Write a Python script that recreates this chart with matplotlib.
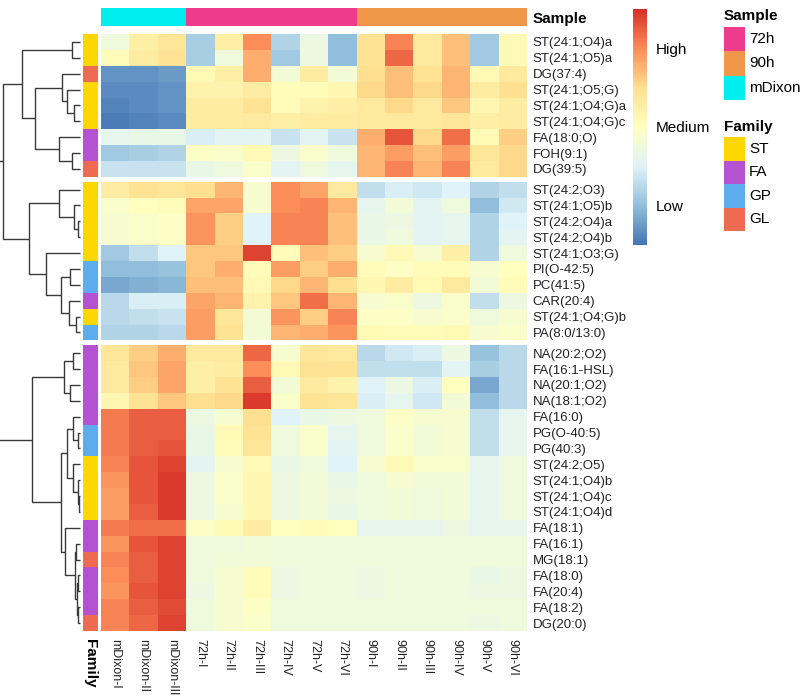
import numpy as np
import matplotlib
matplotlib.use("Agg")
import matplotlib.pyplot as plt
from matplotlib.colors import LinearSegmentedColormap, Normalize, ListedColormap
from matplotlib.cm import ScalarMappable
from matplotlib.patches import Rectangle

plt.rcParams['font.family'] = ['Liberation Sans', 'DejaVu Sans']

# ---------------- data ----------------
samples = ['mDixon-I', 'mDixon-II', 'mDixon-III',
           '72h-I', '72h-II', '72h-III', '72h-IV', '72h-V', '72h-VI',
           '90h-I', '90h-II', '90h-III', '90h-IV', '90h-V', '90h-VI']
sample_group = ['mDixon'] * 3 + ['72h'] * 6 + ['90h'] * 6

lipids = ['ST(24:1;O4)a', 'ST(24:1;O5)a', 'DG(37:4)', 'ST(24:1;O5;G)', 'ST(24:1;O4;G)a',
          'ST(24:1;O4;G)c', 'FA(18:0;O)', 'FOH(9:1)', 'DG(39:5)',
          'ST(24:2;O3)', 'ST(24:1;O5)b', 'ST(24:2;O4)a', 'ST(24:2;O4)b', 'ST(24:1;O3;G)',
          'PI(O-42:5)', 'PC(41:5)', 'CAR(20:4)', 'ST(24:1;O4;G)b', 'PA(8:0/13:0)',
          'NA(20:2;O2)', 'FA(16:1-HSL)', 'NA(20:1;O2)', 'NA(18:1;O2)', 'FA(16:0)',
          'PG(O-40:5)', 'PG(40:3)', 'ST(24:2;O5)', 'ST(24:1;O4)b', 'ST(24:1;O4)c',
          'ST(24:1;O4)d', 'FA(18:1)', 'FA(16:1)', 'MG(18:1)', 'FA(18:0)', 'FA(20:4)',
          'FA(18:2)', 'DG(20:0)']
families = ['ST', 'ST', 'GL', 'ST', 'ST', 'ST', 'FA', 'FA', 'GL',
            'ST', 'ST', 'ST', 'ST', 'ST', 'GP', 'GP', 'FA', 'ST', 'GP',
            'FA', 'FA', 'FA', 'FA', 'FA', 'GP', 'GP', 'ST', 'ST', 'ST',
            'ST', 'FA', 'FA', 'GL', 'FA', 'FA', 'FA', 'GL']
cluster_sizes = [9, 10, 18]

# row-scaled abundance (z-score)
values = np.array([
    [-0.5, 0.5, 0.8, -1.7, 0.5, 2.0, -1.6, -0.6, -2.0, 0.9, 2.1, 0.7, 1.4, -1.8, 0.2],
    [0.1, 0.6, 0.9, -1.7, -0.5, 1.6, -1.8, -0.6, -2.0, 0.9, 2.4, 0.7, 1.4, -1.8, 0.2],
    [-2.6, -2.6, -2.5, 0.2, 0.5, 1.6, -0.4, 0.6, -0.4, 1.0, 1.4, 0.9, 1.5, 0.2, 0.7],
    [-2.7, -2.7, -2.6, 0.4, 0.4, 0.6, 0.1, 0.1, 0.3, 1.1, 1.4, 1.1, 1.5, 0.6, 1.0],
    [-2.8, -2.7, -2.6, 0.6, 0.6, 0.9, 0.1, 0.4, 0.5, 0.7, 1.1, 0.7, 1.3, 0.3, 0.6],
    [-2.9, -2.8, -2.7, 0.6, 0.6, 0.7, 0.5, 0.6, 0.6, 0.7, 0.7, 0.7, 0.8, 0.5, 0.6],
    [-0.8, -0.7, -0.7, -1.1, -0.9, -0.9, -1.3, -0.9, -1.3, 1.6, 2.6, 1.1, 2.3, 0.2, 1.2],
    [-1.8, -1.7, -1.6, -0.1, -0.2, 0.2, -0.6, -0.2, -0.5, 1.5, 1.8, 1.4, 1.8, 0.8, 1.1],
    [-1.3, -1.3, -1.3, -0.7, -0.5, -0.2, -0.9, -0.5, -0.8, 1.5, 2.1, 1.5, 2.1, 0.7, 1.1],
    [0.6, 0.9, 0.8, 1.0, 1.5, -0.3, 2.0, 1.7, 0.7, -1.4, -1.1, -1.2, -1.0, -1.6, -1.4],
    [-0.2, 0.0, 0.1, 1.7, 1.7, -0.3, 2.0, 2.1, 1.5, -0.8, -0.4, -0.9, -0.5, -2.0, -1.2],
    [-0.3, -0.2, -0.1, 1.9, 1.2, -1.0, 2.1, 2.1, 1.4, -0.7, -0.6, -0.9, -0.8, -1.6, -1.0],
    [-0.3, -0.2, -0.1, 1.9, 1.2, -1.0, 2.1, 2.1, 1.4, -0.7, -0.5, -0.9, -0.8, -1.6, -0.9],
    [-1.8, -1.4, -1.0, 1.3, 1.3, 2.8, 0.1, 1.4, 1.2, -0.3, 0.2, -0.3, 0.5, -1.6, -0.5],
    [-2.0, -2.0, -1.9, 1.3, 1.6, 0.1, 1.8, 1.2, 1.6, 0.1, -0.1, 0.1, 0.1, -0.3, 0.0],
    [-2.3, -2.2, -2.1, 1.4, 1.4, 0.2, 1.1, 1.5, 1.0, 0.3, 0.6, 0.2, 0.7, -0.4, 0.1],
    [-1.5, -1.1, -1.1, 1.7, 1.5, 0.4, 1.3, 2.3, 1.5, -0.3, -0.2, -0.6, -0.2, -1.4, -0.6],
    [-1.5, -1.4, -1.3, 1.8, 0.8, -0.4, 1.9, 1.2, 2.1, -0.1, -0.1, -0.3, -0.2, -0.5, -0.3],
    [-1.6, -1.6, -1.5, 1.8, 0.9, -0.4, 1.5, 1.6, 1.9, 0.2, 0.1, 0.1, 0.2, -0.3, -0.2],
    [0.8, 1.2, 1.6, 0.7, 0.7, 2.4, -0.3, 0.8, 0.7, -1.5, -1.2, -1.1, -0.6, -1.9, -1.5],
    [0.7, 1.3, 1.7, 0.5, 0.6, 2.0, 0.2, 0.9, 0.9, -1.4, -1.4, -1.4, -0.9, -1.7, -1.5],
    [0.7, 1.2, 1.7, 0.5, 0.9, 2.5, -0.4, 0.7, 0.4, -1.0, -0.6, -1.1, 0.0, -2.3, -1.5],
    [0.3, 0.9, 1.3, 1.0, 1.1, 2.9, -0.2, 0.9, 0.8, -1.1, -0.8, -1.2, -0.4, -2.0, -1.5],
    [2.2, 2.5, 2.5, -0.6, -0.3, 1.0, -1.0, -0.7, -0.6, -0.5, -0.1, -0.3, -0.3, -1.4, -0.8],
    [2.2, 2.5, 2.5, -0.7, 0.2, 0.9, -0.5, -0.2, -0.8, -0.5, -0.2, -0.4, -0.3, -1.4, -0.8],
    [2.2, 2.5, 2.6, -0.7, 0.1, 0.8, -0.5, -0.2, -0.9, -0.5, -0.2, -0.4, -0.3, -1.4, -0.8],
    [2.1, 2.6, 2.8, -0.9, -0.3, 0.2, -0.7, -0.5, -1.0, -0.3, 0.2, -0.2, -0.2, -0.8, -0.5],
    [1.9, 2.6, 2.9, -0.6, -0.2, 0.3, -0.6, -0.4, -0.7, -0.5, -0.3, -0.4, -0.4, -0.8, -0.5],
    [1.8, 2.6, 2.9, -0.6, -0.2, 0.3, -0.6, -0.4, -0.6, -0.5, -0.4, -0.5, -0.4, -0.8, -0.5],
    [1.8, 2.5, 2.9, -0.6, -0.3, 0.3, -0.6, -0.4, -0.7, -0.5, -0.4, -0.5, -0.4, -0.8, -0.5],
    [2.2, 2.3, 2.3, -0.1, 0.2, 0.6, 0.0, 0.1, 0.0, -0.8, -0.8, -0.8, -0.6, -0.8, -0.8],
    [1.9, 2.6, 2.8, -0.5, -0.5, -0.4, -0.5, -0.5, -0.5, -0.5, -0.5, -0.5, -0.5, -0.5, -0.5],
    [2.1, 2.5, 2.8, -0.5, -0.4, -0.4, -0.5, -0.5, -0.5, -0.5, -0.5, -0.5, -0.5, -0.5, -0.5],
    [2.0, 2.5, 2.8, -0.5, -0.3, 0.1, -0.6, -0.5, -0.5, -0.6, -0.5, -0.5, -0.5, -0.7, -0.6],
    [1.9, 2.6, 2.8, -0.6, -0.3, 0.1, -0.6, -0.5, -0.5, -0.6, -0.5, -0.5, -0.5, -0.6, -0.6],
    [2.1, 2.5, 2.7, -0.5, -0.3, -0.1, -0.5, -0.5, -0.5, -0.5, -0.5, -0.5, -0.5, -0.5, -0.5],
    [2.1, 2.4, 2.8, -0.5, -0.3, -0.2, -0.5, -0.5, -0.5, -0.5, -0.5, -0.5, -0.5, -0.6, -0.5],
])

# row dendrogram: (merge height, left, right); leaves are row indices
dendrogram_tree = (
    86,
    (77,
     (58, (8, 0, 1),
      (45, (18, 2, (13, 3, (6, 4, 5))), (21, 6, (8, 7, 8)))),
     (51, (21, 9, (6, 10, (2, 11, 12))),
      (34, 13, (19, (10, 14, 15), (11, 16, (4, 17, 18)))))),
    (48,
     (16, (7, 19, 20), (10, 21, 22)),
     (19,
      (13, (7, 23, (2, 24, 25)), (7, 26, (2, 27, (1, 28, 29)))),
      (15, 30, (5, (4, 31, 32), (3, (2, 33, 34), (2, 35, 36)))))),
)

sample_levels = ['72h', '90h', 'mDixon']
sample_colors = ['#EF3B8C', '#EF9649', '#00EEEE']
family_levels = ['ST', 'FA', 'GP', 'GL']
family_colors = ['#FFD700', '#B452D2', '#5CACEE', '#EE6A50']
scale_ticks = [2, 0, -2]
scale_labels = ['High', 'Medium', 'Low']

# ---------------- figure ----------------
W, H = 800, 699
fig = plt.figure(figsize=(W / 100, H / 100), dpi=100)


def px_axes(x0, y0, x1, y1):
    return fig.add_axes([x0 / W, 1 - y1 / H, (x1 - x0) / W, (y1 - y0) / H])


cmap = LinearSegmentedColormap.from_list(
    'rdylbu7', ['#4575B4', '#91BFDB', '#E0F3F8', '#FFFFBF', '#FEE090', '#FC8D59', '#D73027'], N=256)
norm = Normalize(-3, 3)

gap = 0.3
nrow, ncol = values.shape
total = nrow + gap * (len(cluster_sizes) - 1)
starts = np.cumsum([0] + cluster_sizes[:-1])
row_pos = np.zeros(nrow)
for c, (s, n) in enumerate(zip(starts, cluster_sizes)):
    row_pos[s:s + n] = np.arange(s, s + n) + c * gap + 0.5

# heatmap
hx0, hx1, hy0, hy1 = 101, 527, 34, 631
ax = px_axes(hx0, hy0, hx1, hy1)
for c, (s, n) in enumerate(zip(starts, cluster_sizes)):
    ye = np.arange(s, s + n + 1) + c * gap
    ax.pcolormesh(np.arange(ncol + 1), ye, values[s:s + n], cmap=cmap, norm=norm,
                  edgecolors='none', antialiased=False)
ax.set_xlim(0, ncol)
ax.set_ylim(total, 0)
for sp in ax.spines.values():
    sp.set_visible(False)
ax.set_xticks(np.arange(ncol) + 0.5)
ax.set_xticklabels(samples, rotation=270, fontsize=9, va='top', ha='center', color='#222222')
ax.yaxis.tick_right()
ax.set_yticks(row_pos)
ax.set_yticklabels(lipids, fontsize=9.5, color='#222222')
ax.tick_params(length=0, pad=4)
ax.tick_params(axis='x', pad=6)

# family annotation
fam_idx = np.array([family_levels.index(f) for f in families])
axf = px_axes(83, hy0, 98, hy1)
for c, (s, n) in enumerate(zip(starts, cluster_sizes)):
    ye = np.arange(s, s + n + 1) + c * gap
    axf.pcolormesh([0, 1], ye, fam_idx[s:s + n, None], cmap=ListedColormap(family_colors),
                   vmin=-0.5, vmax=3.5, edgecolors='none', antialiased=False)
axf.set_xlim(0, 1)
axf.set_ylim(total, 0)
for sp in axf.spines.values():
    sp.set_visible(False)
axf.set_yticks([])
axf.set_xticks([0.5])
axf.set_xticklabels(['Family'], rotation=270, fontsize=11, fontweight='bold', va='top')
axf.tick_params(length=0, pad=6)

# sample annotation
samp_idx = np.array([sample_levels.index(g) for g in sample_group])
axs = px_axes(hx0, 8, hx1, 26)
axs.pcolormesh(np.arange(ncol + 1), [0, 1], samp_idx[None, :], cmap=ListedColormap(sample_colors),
               vmin=-0.5, vmax=2.5, edgecolors='none', antialiased=False)
axs.set_xlim(0, ncol)
axs.set_ylim(1, 0)
for sp in axs.spines.values():
    sp.set_visible(False)
axs.set_xticks([])
axs.yaxis.tick_right()
axs.set_yticks([0.5])
axs.set_yticklabels(['Sample'], fontsize=11, fontweight='bold')
axs.tick_params(length=0, pad=4)

# dendrogram
axd = px_axes(0, hy0, 82, hy1)


def draw(node):
    if isinstance(node, (int, np.integer)):
        return row_pos[node], 0.0
    h, l, r = node
    yl, hl = draw(l)
    yr, hr = draw(r)
    axd.plot([hl, h, h, hr], [yl, yl, yr, yr], color='#3a3a3a', lw=1.0, solid_capstyle='butt')
    return (yl + yr) / 2, h


draw(dendrogram_tree)
axd.set_xlim(80, -2)
axd.set_ylim(total, 0)
axd.axis('off')

# colorbar
cax = px_axes(633, 9, 647, 245)
cb = fig.colorbar(ScalarMappable(norm=norm, cmap=cmap), cax=cax, ticks=scale_ticks)
cb.set_ticklabels(scale_labels)
cb.outline.set_visible(False)
cax.tick_params(length=0, labelsize=11, pad=6)

# legends
axl = px_axes(0, 0, W, H)
axl.set_xlim(0, W)
axl.set_ylim(H, 0)
axl.axis('off')
axl.set_zorder(-1)


def legend_block(title, labels, colors, y_title, y0, hbox):
    axl.text(724, y_title, title, fontsize=11, fontweight='bold', va='center', ha='left')
    for i, (lab, col) in enumerate(zip(labels, colors)):
        yb = y0 + i * hbox
        axl.add_patch(Rectangle((724, yb), 21, hbox, facecolor=col, edgecolor='none'))
        axl.text(749, yb + hbox / 2, lab, fontsize=11, va='center', ha='left')


legend_block('Sample', sample_levels, sample_colors, 16, 27, 24.3)
legend_block('Family', family_levels, family_colors, 127, 137, 23.5)

fig.savefig('out.png', dpi=100)
